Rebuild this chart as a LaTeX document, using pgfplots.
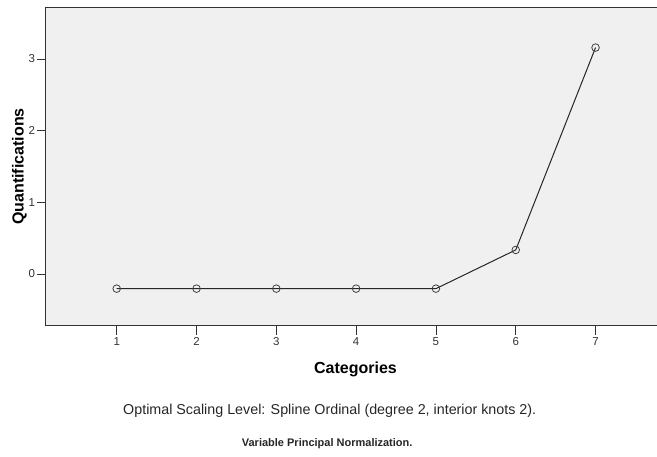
\documentclass[border=0pt]{standalone}
\usepackage{pgfplots}
\pgfplotsset{compat=1.18}
\usepackage{fontspec}
\setmainfont{Liberation Sans}
\definecolor{bgc}{HTML}{F0F0F0}
\definecolor{frame}{HTML}{333333}
\begin{document}
\begin{tikzpicture}[x=1pt,y=1pt]
\useasboundingbox (0,0) rectangle (657,457);
\begin{axis}[
  at={(46pt,131pt)}, anchor=south west,
  scale only axis, width=611pt, height=318.7pt,
  xmin=0.114, xmax=7.77, ymin=-0.726, ymax=3.72,
  axis background/.style={fill=bgc},
  axis line style={frame, line width=1pt},
  xtick={1,...,7}, ytick={0,1,2,3},
  tick align=outside, tick pos=left,
  major tick length=9pt,
  tick style={frame, line width=0.8pt},
  ticklabel style={font=\fontsize{11.5}{13}\selectfont, text=black!80},
  /pgf/number format/assume math mode=true,
  xticklabel shift=-1pt, yticklabel shift=-1.5pt,
]
\addplot[black!85, line width=1pt, mark=o, mark size=3.8pt, mark options={draw=black!75, line width=0.8pt}]
  coordinates {(1,-0.205) (2,-0.205) (3,-0.205) (4,-0.205) (5,-0.205) (6,0.335) (7,3.158)};
\end{axis}
\node[font=\bfseries\fontsize{16}{18}\selectfont, anchor=base] at (355.5,83.7) {Categories};
\node[font=\bfseries\fontsize{16}{18}\selectfont, rotate=90, anchor=base] at (23.5,290.5) {Quantifications};
\node[font=\fontsize{14.3}{16}\selectfont, text=black!85, anchor=base west, inner sep=0pt] at (123,42.7) {Optimal Scaling Level: Spline Ordinal (degree 2, interior knots 2).};
\node[font=\bfseries\fontsize{11}{13}\selectfont, text=black!85, anchor=base west, inner sep=0pt] at (241.7,10) {Variable Principal Normalization.};
\end{tikzpicture}
\end{document}
